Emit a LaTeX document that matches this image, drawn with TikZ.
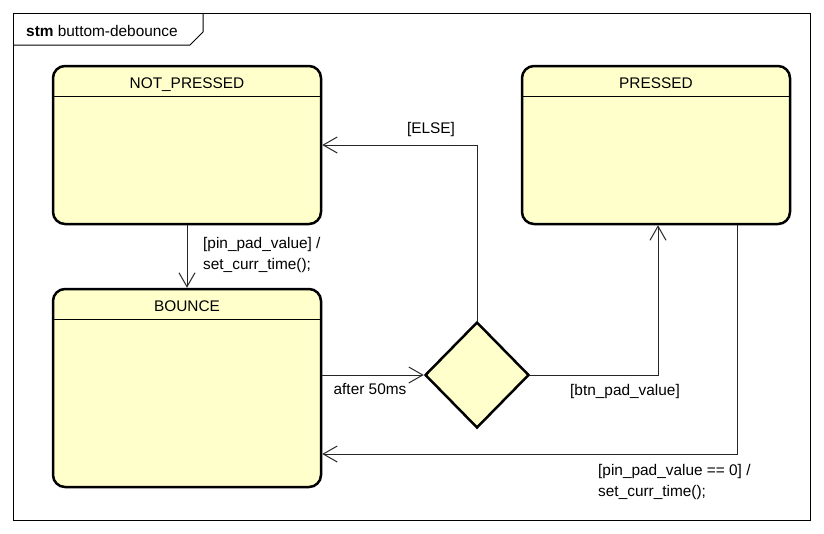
\documentclass[tikz,border=0pt]{standalone}
\usepackage{fontspec}
\setmainfont{Liberation Sans}
\usetikzlibrary{shapes.geometric,arrows.meta}
\definecolor{statefill}{RGB}{255,255,204}
\begin{document}
\begin{tikzpicture}[
        x=1pt,y=-1pt,
        every node/.style={inner sep=0pt,font=\fontsize{15.4}{20.5}\selectfont},
        state/.style={draw,line width=2.5pt,fill=statefill,rounded corners=12pt,minimum width=268pt},
        choice/.style={draw,diamond,line width=2.5pt,fill=statefill,minimum width=104pt,minimum height=106pt},
        trans/.style={-{Straight Barb[length=14pt,width=16pt]},line width=1pt,black!85},
        guard/.style={align=left},
      ]
      \useasboundingbox (0,0) rectangle (824,533);
      \draw[line width=1pt] (13,13) rectangle (810,520);
      \draw[line width=1pt] (13,45) -- (190,45) -- (203,32) -- (203,13);
      \node[anchor=west] (frametitle) at (26,31) {\textbf{stm} buttom-debounce};
      \node[state,minimum height=158pt] (notpressed) at (187,145) {};
      \node[state,minimum height=158pt] (pressed) at (656,145) {};
      \node[state,minimum height=198pt] (bounce) at (187,388) {};
      \node[choice] (decide) at (477,375) {};
      \foreach \s/\t in {notpressed/NOT\_PRESSED,pressed/PRESSED,bounce/BOUNCE} {
        \node[anchor=base] (\s name) at ([yshift=-24pt]\s.north) {\t};
        \draw[line width=1pt] ([yshift=-32pt]\s.north west) -- ([yshift=-32pt]\s.north east);
      }
      \draw[trans] (notpressed) -- (bounce);
      \draw[trans] (bounce.east |- decide.west) -- (decide.west);
      \draw[trans] (decide.north) |- (notpressed.east);
      \draw[trans] (decide.east) -| ([xshift=2pt]pressed.south);
      \draw[trans] ([xshift=81pt]pressed.south) |- ([yshift=-66pt]bounce.east);
      \node[guard,anchor=west] (pressguard) at (203,255) {[pin\_pad\_value] /\\set\_curr\_time();};
      \node (afterlabel) at (370,389) {after 50ms};
      \node (elselabel) at (431,130) {[ELSE]};
      \node (btnguard) at (625,392) {[btn\_pad\_value]};
      \node[guard,anchor=west] (releaseguard) at (598,482) {[pin\_pad\_value == 0] /\\set\_curr\_time();};
\end{tikzpicture}
\end{document}
